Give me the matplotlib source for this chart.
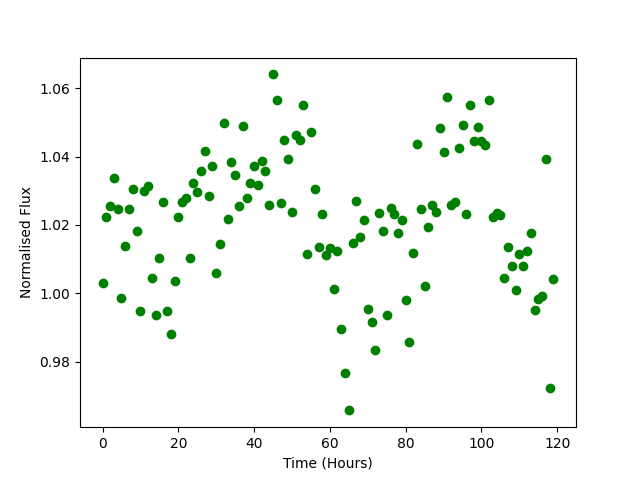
import numpy as np
import matplotlib
matplotlib.use('Agg')
import matplotlib.pyplot as plt

# hourly samples, values
time_hours = np.arange(0, 120)
flux = [
    1.0029, 1.0223, 1.0256, 1.0337, 1.0246, 0.9985, 1.0138, 1.0246, 1.0305, 1.0182,
    0.9947, 1.0300, 1.0313, 1.0044, 0.9936, 1.0103, 1.0267, 0.9947, 0.9880, 1.0035,
    1.0223, 1.0267, 1.0278, 1.0103, 1.0322, 1.0296, 1.0357, 1.0416, 1.0284, 1.0372,
    1.0059, 1.0144, 1.0498, 1.0217, 1.0384, 1.0346, 1.0255, 1.0489, 1.0278, 1.0322,
    1.0372, 1.0316, 1.0387, 1.0357, 1.0258, 1.0641, 1.0565, 1.0264, 1.0448, 1.0392,
    1.0237, 1.0463, 1.0448, 1.0551, 1.0114, 1.0472, 1.0305, 1.0135, 1.0231, 1.0111,
    1.0132, 1.0012, 1.0123, 0.9895, 0.9766, 0.9657, 1.0146, 1.0269, 1.0164, 1.0214,
    0.9953, 0.9915, 0.9833, 1.0234, 1.0182, 0.9936, 1.0249, 1.0231, 1.0176, 1.0214,
    0.9980, 0.9857, 1.0117, 1.0436, 1.0246, 1.0021, 1.0193, 1.0258, 1.0237, 1.0483,
    1.0413, 1.0574, 1.0258, 1.0267, 1.0425, 1.0492, 1.0231, 1.0551, 1.0445, 1.0486,
    1.0445, 1.0433, 1.0565, 1.0223, 1.0234, 1.0228, 1.0044, 1.0135, 1.0079, 1.0009,
    1.0114, 1.0079, 1.0123, 1.0176, 0.9950, 0.9982, 0.9991, 1.0392, 0.9722, 1.0041,
]

fig, ax = plt.subplots(figsize=(6.4, 4.8), dpi=100)

ax.plot(time_hours, flux, 'go')

ax.set_xlabel('Time (Hours)')
ax.set_ylabel('Normalised Flux')

fig.savefig('out.png')
